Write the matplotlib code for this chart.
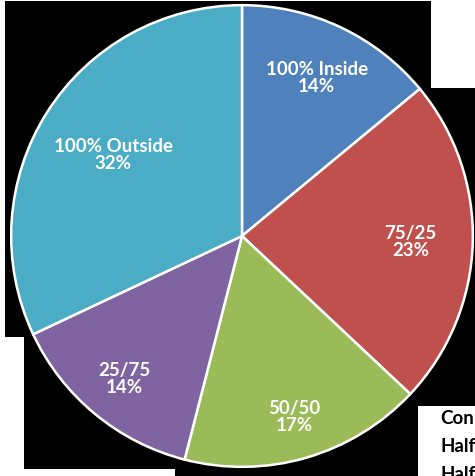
import matplotlib
matplotlib.use("Agg")
import matplotlib.pyplot as plt
import numpy as np
from matplotlib.patches import Polygon, Rectangle

# Slice data (clockwise from 12 o'clock)
categories = ["100% Inside", "75/25", "50/50", "25/75", "100% Outside"]
shares = [14, 23, 17, 14, 32]
colors = ["#4F81BD", "#C0504D", "#9BBB59", "#8064A2", "#4BACC6"]
legend_lines = ["Con", "Half", "Half"]

# how far out each data label sits (fraction of radius), like the original layout
label_dist = [0.76, 0.73, 0.81, 0.80, 0.66]

W, H = 475, 477
fig = plt.figure(figsize=(W / 100, H / 100), dpi=100)
fig.patch.set_facecolor("white")


def px(x, y):
    # pixel coords (y down) -> figure fraction
    return x / W, 1 - y / H


# black slide background behind the chart
bg = [(5, 2), (431, 2), (431, 89), (475, 89), (475, 477), (175, 477),
      (175, 470), (24, 470), (24, 338), (5, 338)]
fig.patches.append(Polygon([px(*p) for p in bg], closed=True,
                           transform=fig.transFigure, facecolor="black",
                           edgecolor="none", zorder=-2))

# pie axes: center ~ (242, 237), radius ~ 232 px
r = 232
cx, cy = 242, 237
ax = fig.add_axes([(cx - r) / W, (H - cy - r) / H, 2 * r / W, 2 * r / H])
ax.set_zorder(1)

labels = [f"{c}\n{s}%" for c, s in zip(categories, shares)]
wedges, texts = ax.pie(shares, colors=colors, startangle=90, counterclock=False,
                       labels=labels, radius=1,
                       wedgeprops=dict(edgecolor="white", linewidth=1.8),
                       textprops=dict(color="white", fontsize=13.5,
                                      fontweight="bold", family="Lato"))
for w, t, d in zip(wedges, texts, label_dist):
    mid = np.deg2rad((w.theta1 + w.theta2) / 2)
    t.set_position((d * np.cos(mid), d * np.sin(mid)))
    t.set_horizontalalignment("center")
    t.set_verticalalignment("center")
    t.set_linespacing(1.0)
ax.set_xlim(-1.005, 1.005)
ax.set_ylim(-1.005, 1.005)
ax.axis("off")

# legend box, cut off at the right edge
x0, y0 = px(418, 477)
x1, y1 = px(475, 407)
fig.patches.append(Rectangle((x0, y0), x1 - x0, y1 - y0, transform=fig.transFigure,
                             facecolor="white", edgecolor="none", zorder=5))
for i, line in enumerate(legend_lines):
    fx, fy = px(440, 419 + i * 28)
    fig.text(fx, fy, line, ha="left", va="center", fontsize=13.5,
             fontweight="bold", family="Lato", color="black", zorder=6)

fig.savefig("out.png", dpi=100)
